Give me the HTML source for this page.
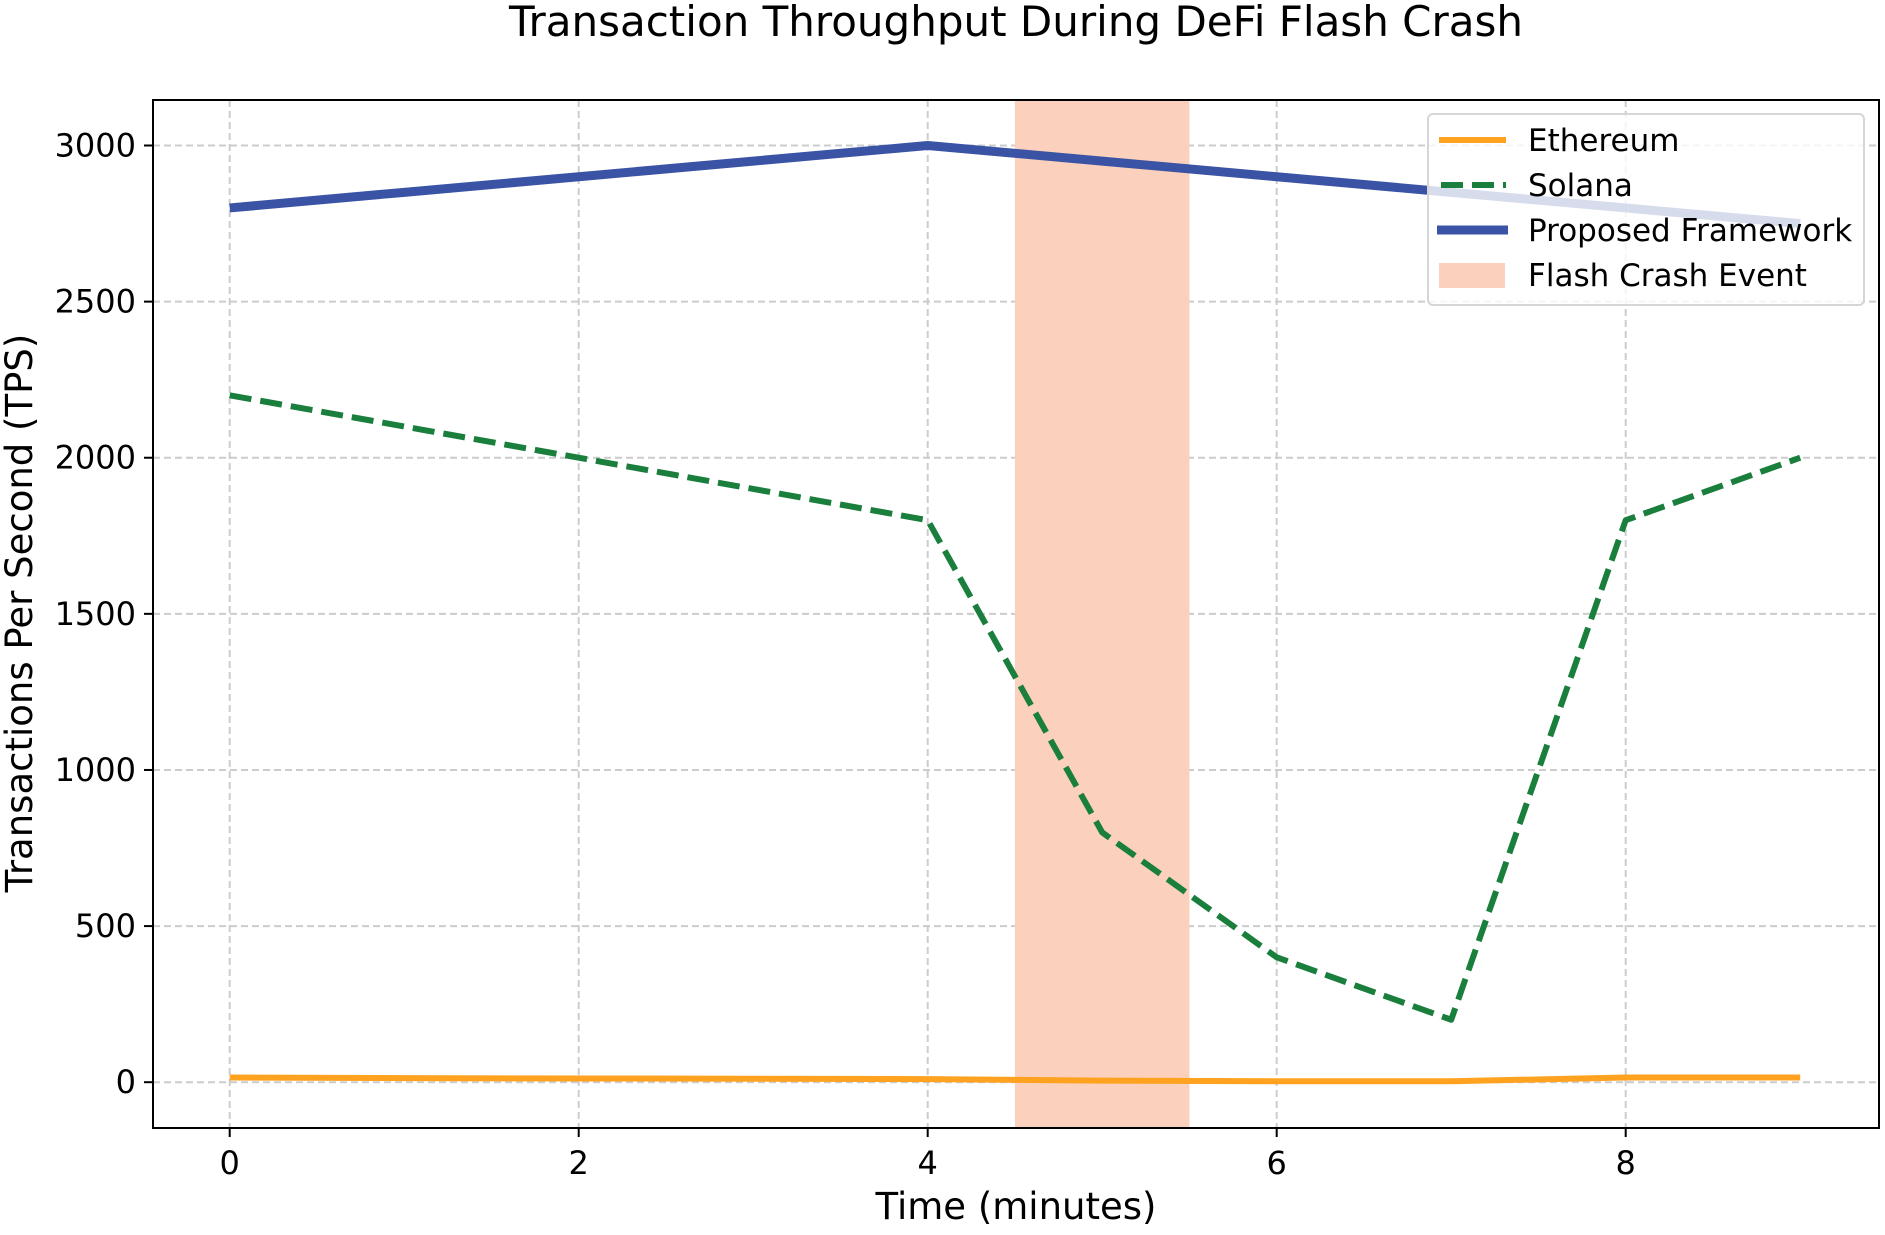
<!DOCTYPE html>
<html><head><meta charset="utf-8"><style>
body{margin:0;background:#fff}
svg text{font-family:"DejaVu Sans","Liberation Sans",sans-serif;fill:#000}
</style></head><body>
<svg id="chart" width="1885" height="1230" viewBox="0 0 1885 1230" xmlns="http://www.w3.org/2000/svg">
<text x="1016" y="36" font-size="42" text-anchor="middle">Transaction Throughput During DeFi Flash Crash</text>
<g id="grid"></g>
<g id="marks"></g>
<rect x="153" y="100" width="1726" height="1028" fill="none" stroke="#000" stroke-width="2"/>
<g id="ticks"></g>
<text x="1016" y="1219" font-size="37" text-anchor="middle">Time (minutes)</text>
<text transform="translate(32,613) rotate(-90)" font-size="37" text-anchor="middle">Transactions Per Second (TPS)</text>
<g>
<rect x="1428" y="114" width="436" height="191" rx="5" fill="#fff" fill-opacity="0.8" stroke="#d6d6d6" stroke-width="2"/>
<line x1="1439" y1="140" x2="1506" y2="140" stroke="#FFA21F" stroke-width="6"/>
<text x="1528" y="151" font-size="31">Ethereum</text>
<line x1="1441" y1="185" x2="1506" y2="185" stroke="#1A7F3C" stroke-width="6" stroke-dasharray="22,9"/>
<text x="1528" y="196" font-size="31">Solana</text>
<line x1="1437" y1="230" x2="1508" y2="230" stroke="#3A53A4" stroke-width="9"/>
<text x="1528" y="241" font-size="31">Proposed Framework</text>
<rect x="1439" y="263" width="66" height="25" fill="#FBD0BD"/>
<text x="1528" y="286" font-size="31">Flash Crash Event</text>
</g>
</svg>
<script>
const times=[0,1,2,3,4,5,6,7,8,9];
const ethereum=[15,13,12,11,10,5,3,3,15,15];
const solana=[2200,2100,2000,1900,1800,800,400,200,1800,2000];
const proposed=[2800,2850,2900,2950,3000,2950,2900,2850,2800,2750];
const crashStart=4.5, crashEnd=5.5;
const xTicks=[0,2,4,6,8];
const yTicks=[0,500,1000,1500,2000,2500,3000];
const NS='http://www.w3.org/2000/svg';
const X=v=>229.7+v*174.5;
const Y=v=>1082.2-v*(936.7/3000);
function mk(tag,attrs,parent){const e=document.createElementNS(NS,tag);for(const k in attrs)e.setAttribute(k,attrs[k]);parent.appendChild(e);return e;}
const grid=document.getElementById('grid'),marks=document.getElementById('marks'),ticks=document.getElementById('ticks');
xTicks.forEach(t=>{
 const g=mk('line',{x1:X(t),x2:X(t),y1:100,y2:1128,stroke:'#cccccc','stroke-width':2,'stroke-dasharray':'7,4'},grid);
 
 
 const tk=mk('line',{x1:X(t),x2:X(t),y1:1128,y2:1137,stroke:'#000','stroke-width':2},ticks);
 
 
 const tx=mk('text',{x:X(t),y:1174,'font-size':32,'text-anchor':'middle'},ticks);tx.textContent=t;
 
 
});
yTicks.forEach(t=>{
 const g=mk('line',{x1:153,x2:1879,y1:Y(t),y2:Y(t),stroke:'#cccccc','stroke-width':2,'stroke-dasharray':'7,4'},grid);
 
 
 const tk=mk('line',{x1:144,x2:153,y1:Y(t),y2:Y(t),stroke:'#000','stroke-width':2},ticks);
 
 
 const tx=mk('text',{x:136,y:Y(t)+11,'font-size':32,'text-anchor':'end'},ticks);tx.textContent=t;
 
 
});
const band=mk('rect',{x:X(crashStart),y:100,width:X(crashEnd)-X(crashStart),height:1028,fill:'#FBD0BD'},marks);


function line(vals,color,w,dash,name){
 const p=mk('polyline',{points:times.map((t,i)=>X(t)+','+Y(vals[i])).join(' '),fill:'none',stroke:color,'stroke-width':w,'stroke-linejoin':'round'},marks);
 if(dash)p.setAttribute('stroke-dasharray',dash);
 
 
}
line(ethereum,'#FFA21F',6,null,'ethereum-line');
line(solana,'#1A7F3C',6,'22,9','solana-line');
line(proposed,'#3A53A4',9,null,'proposed-framework-line');
</script>
</body></html>
